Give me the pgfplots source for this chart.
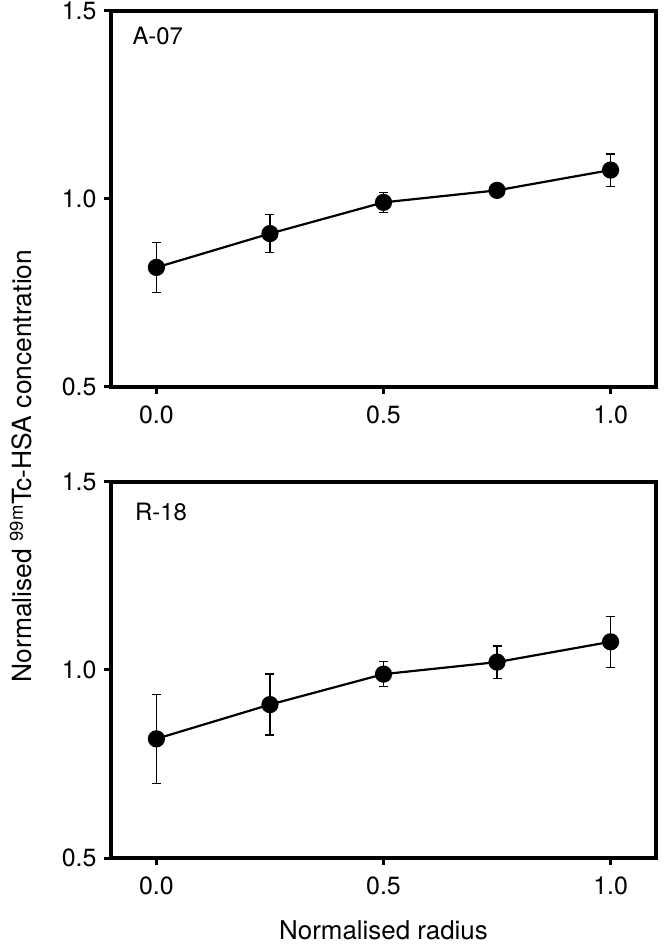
\documentclass[border=0pt]{standalone}
\usepackage{pgfplots}
\pgfplotsset{compat=1.18}
\usepackage{pgfplotstable}
\usepackage{fontspec}
\setmainfont{TeX Gyre Heros}

\pgfplotstableread{
x     y      e
0.00  0.818  0.066
0.25  0.908  0.050
0.50  0.991  0.027
0.75  1.023  0.008
1.00  1.077  0.043
}\dataA

\pgfplotstableread{
x     y      e
0.00  0.817  0.118
0.25  0.908  0.081
0.50  0.989  0.033
0.75  1.021  0.043
1.00  1.075  0.068
}\dataR

\pgfplotsset{
  panel/.style={
    scale only axis,
    width=545bp, height=376bp,
    xmin=-0.1, xmax=1.1, ymin=0.5, ymax=1.5,
    xtick={0,0.5,1}, ytick={0.5,1,1.5},
    tick label style={font=\fontsize{25}{29}\selectfont,
      /pgf/number format/fixed, /pgf/number format/fixed zerofill,
      /pgf/number format/precision=1},
    /pgf/number format/assume math mode=true,
    tick align=outside,
    xtick pos=bottom, ytick pos=left,
    major tick length=7bp,
    axis line style={line width=3.5bp},
    every tick/.style={black, line width=3bp},
    yticklabel style={xshift=-4bp},
    xticklabel style={yshift=-8bp},
    clip=false,
  },
  dat/.style={
    black, line width=2.2bp, mark=*, mark size=7.5bp,
    mark options={solid, fill=black},
    error bars/.cd, y dir=both, y explicit,
    error bar style={line width=1.3bp, black},
    error mark options={rotate=90, mark size=4.5bp, line width=1.3bp, black},
  },
}

\begin{document}
\begin{tikzpicture}
\useasboundingbox (-111bp,-87bp) rectangle (553bp,858bp);
\begin{axis}[panel, at={(0bp,471bp)}]
  \addplot[dat] table[x=x, y=y, y error=e] {\dataA};
  \node[anchor=west, font=\fontsize{24}{28}\selectfont] at (rel axis cs:0.033,0.934) {A-07};
\end{axis}
\begin{axis}[panel, at={(0bp,0bp)}]
  \addplot[dat] table[x=x, y=y, y error=e] {\dataR};
  \node[anchor=west, font=\fontsize{24}{28}\selectfont] at (rel axis cs:0.038,0.92) {R-18};
\end{axis}
\node[rotate=90, font=\fontsize{26.5}{30}\selectfont] at (-90bp,392bp) {Normalised \textsuperscript{99m}Tc-HSA concentration};
\node[font=\fontsize{26}{30}\selectfont] at (272.5bp,-72bp) {Normalised radius};
\end{tikzpicture}
\end{document}
